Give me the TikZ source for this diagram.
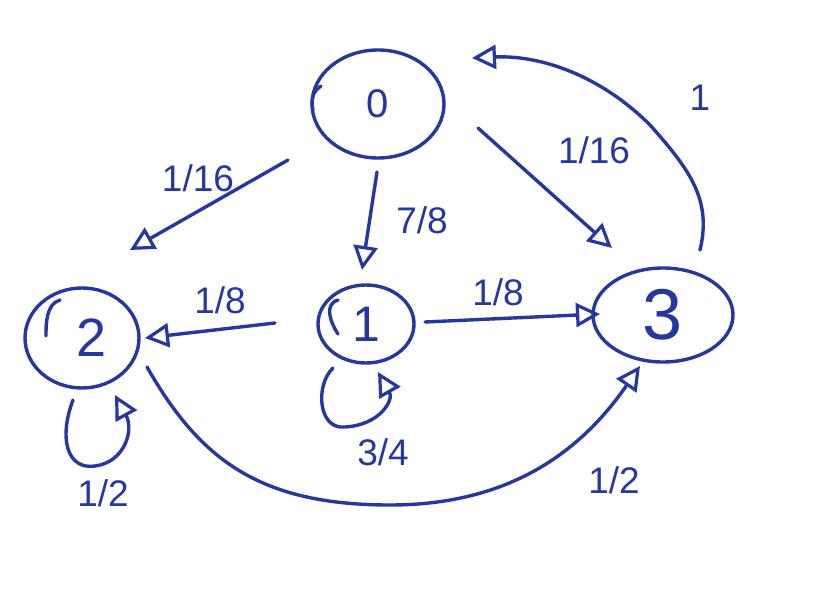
\documentclass[tikz,border=0pt]{standalone}
\usepackage{fontspec}
\setmainfont{Liberation Sans}
\usetikzlibrary{arrows.meta,shapes.geometric}
\definecolor{ink}{HTML}{2637A0}
\begin{document}
\begin{tikzpicture}[x=1pt,y=-1pt,
  pen/.style={draw=ink,line width=3.4pt,line cap=round,line join=round},
  state/.style={pen,ellipse,inner sep=0pt,text=ink},
  arr/.style={pen,-{Triangle[open,length=24pt,width=24pt,line width=3.2pt]}},
  lbl/.style={text=ink,font=\fontsize{37}{39}\selectfont,inner sep=0pt}]
\useasboundingbox (0,0) rectangle (819,596);
\fill[white] (0,0) rectangle (819,596);
% states
\node[state,minimum width=132pt,minimum height=108pt,font=\fontsize{40}{42}\selectfont] (n0) at (378,104) {0};
\node[state,minimum width=96pt,minimum height=78pt,font=\fontsize{50}{52}\selectfont] (n1) at (366,324) {1};
\node[state,minimum width=114pt,minimum height=100pt,font=\fontsize{54}{56}\selectfont] (n2) at (82,338) {\hspace*{20pt}2};
\node[state,minimum width=140pt,minimum height=94pt,font=\fontsize{72}{74}\selectfont] (n3) at (663,315) {3};
% inner strokes of the hand-drawn circles
\draw[pen] ([shift={(-57,-18)}]n0.center) .. controls +(-9,6) and +(-2,-10) .. ([shift={(-65,6)}]n0.center);
\draw[pen] ([shift={(-22,-38)}]n2.center) .. controls +(-14,4) and +(0,-12) .. ([shift={(-36,-2)}]n2.center);
\draw[pen] ([shift={(-28,-24)}]n1.center) .. controls +(-14,4) and +(-8,-12) .. ([shift={(-28,10)}]n1.center);
% edges
\draw[arr] ([shift={(-90,56)}]n0.center) -- ([shift={(48,-88)}]n2.center);
\draw[arr] ([shift={(-1,68)}]n0.center) -- ([shift={(-4,-54)}]n1.center);
\draw[arr] ([shift={(100,24)}]n0.center) -- ([shift={(-51,-67)}]n3.center);
\draw[arr] ([shift={(37,-65)}]n3.center) .. controls (712,200) and (690,170) .. (650,125)
  .. controls (600,75) and (540,55) .. ([shift={(94,-46)}]n0.center);
\draw[arr] ([shift={(-91,-1)}]n1.center) -- ([shift={(63,0)}]n2.center);
\draw[arr] ([shift={(59,-2)}]n1.center) -- ([shift={(-63,-1)}]n3.center);
\draw[arr] ([shift={(65,29)}]n2.center) .. controls (200,460) and (260,505) .. (390,505)
  .. controls (500,505) and (575,460) .. ([shift={(-23,51)}]n3.center);
% self loops
\draw[arr] ([shift={(-33,44)}]n1.center) .. controls (315,385) and (318,430) .. (345,427)
  .. controls (380,425) and (394,400) .. ([shift={(12,48)}]n1.center);
\draw[arr] ([shift={(-9,62)}]n2.center) .. controls (58,440) and (68,470) .. (95,466)
  .. controls (125,462) and (134,430) .. ([shift={(33,57)}]n2.center);
% labels
\node[lbl] (l02) at (198,178) {1/16};
\node[lbl] (l01) at (422,220) {7/8};
\node[lbl] (l03) at (594,150) {1/16};
\node[lbl] (l30) at (700,98) {1};
\node[lbl] (l12) at (220,300) {1/8};
\node[lbl] (l13) at (498,292) {1/8};
\node[lbl] (l11) at (383,452) {3/4};
\node[lbl] (l22) at (103,493) {1/2};
\node[lbl] (l23) at (614,480) {1/2};
\end{tikzpicture}
\end{document}
